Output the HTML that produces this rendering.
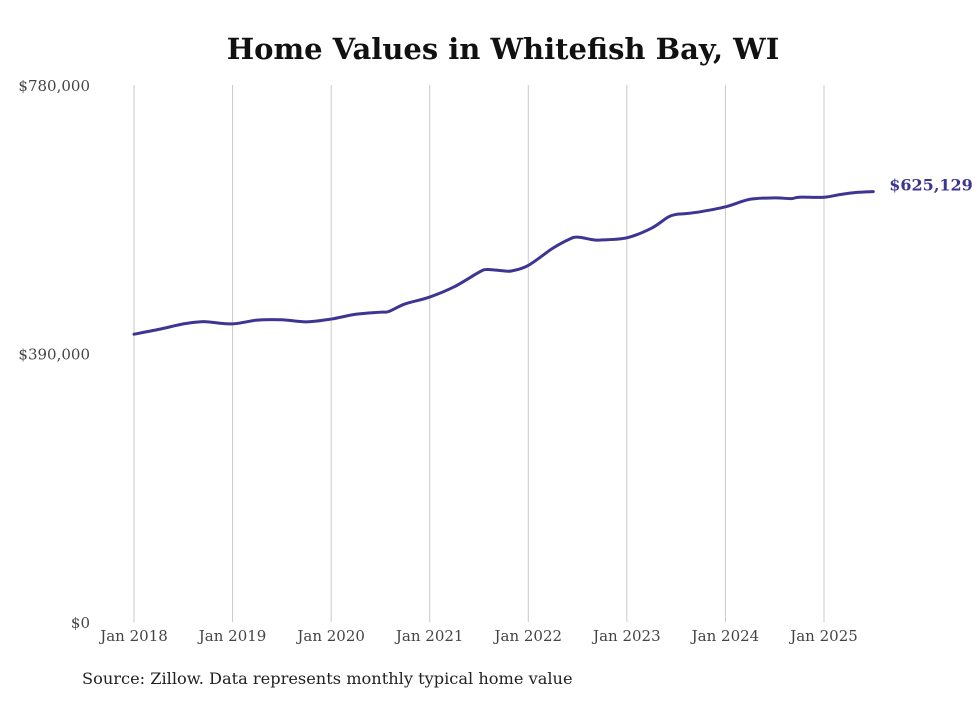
<!DOCTYPE html>
<html><head><meta charset="utf-8"><style>
body{margin:0;background:#fff;width:980px;height:699px;overflow:hidden}
svg text{font-family:"DejaVu Serif","Liberation Serif",serif}
</style></head><body>
<svg width="980" height="699" id="c">
<text x="503" y="59" text-anchor="middle" font-size="29" font-weight="bold" fill="#111">Home Values in Whitefish Bay, WI</text>
<text x="82" y="684" font-size="16.2" fill="#222">Source: Zillow. Data represents monthly typical home value</text>
<g id="grid"></g><g id="yt"></g><g id="xt"></g><g id="ln"></g>
</svg>
<script>
const monthIdx=[0,3,6,8,9,12,15,18,21,24,27,30,31,33,36,39,42,43,45,46,48,51,53,54,56,57,60,63,65,66,67,69,72,75,78,80,81,84,86,88,90];
const values=[418000,425000,433000,436000,436000,433000,438500,439000,436000,440000,447000,450000,451000,462000,472000,487000,508000,512000,510000,510000,518000,543000,556000,559000,555000,555000,558000,572000,588000,592000,593000,596000,603000,614000,616000,615000,617000,617000,621000,624000,625129];
const yTicks=[0,390000,780000];
const yLabels=["$0","$390,000","$780,000"];
const xTicks=[0,12,24,36,48,60,72,84];
const xLabels=["Jan 2018","Jan 2019","Jan 2020","Jan 2021","Jan 2022","Jan 2023","Jan 2024","Jan 2025"];
const lastLabel="$625,129";
const X=m=>134+m*(690/84), Y=v=>622-v*(537/780000);
const ns="http://www.w3.org/2000/svg";
function mk(t,a,p){const e=document.createElementNS(ns,t);for(const k in a)e.setAttribute(k,a[k]);document.getElementById(p).appendChild(e);return e;}
xTicks.forEach((m,i)=>{
 const l=mk('line',{x1:X(m),x2:X(m),y1:85,y2:622,stroke:'#c8c8c8','stroke-width':1},'grid');
 
 
 const t=mk('text',{x:X(m),y:641,'text-anchor':'middle','font-size':15,fill:'#444'},'xt');
 t.textContent=xLabels[i];
 
 
});
yTicks.forEach((v,i)=>{
 const t=mk('text',{x:90,y:Y(v)+6,'text-anchor':'end','font-size':15,fill:'#444'},'yt');
 t.textContent=yLabels[i];
 
 
});
const pts=monthIdx.map((m,i)=>[X(m),Y(values[i])]);
let d='M'+pts[0][0]+','+pts[0][1];
for(let i=0;i<pts.length-1;i++){const p0=pts[Math.max(0,i-1)],p1=pts[i],p2=pts[i+1],p3=pts[Math.min(pts.length-1,i+2)];
 d+=` C${p1[0]+(p2[0]-p0[0])/6},${p1[1]+(p2[1]-p0[1])/6} ${p2[0]-(p3[0]-p1[0])/6},${p2[1]-(p3[1]-p1[1])/6} ${p2[0]},${p2[1]}`;}
const path=mk('path',{d:d,fill:'none',stroke:'#3d3592','stroke-width':3,'stroke-linecap':'round'},'ln');


const lp=pts[pts.length-1];
const lt=mk('text',{x:lp[0]+16,y:lp[1]-1,'font-size':16,'font-weight':'bold',fill:'#3d3592'},'ln');
lt.textContent=lastLabel;


</script>
</body></html>
